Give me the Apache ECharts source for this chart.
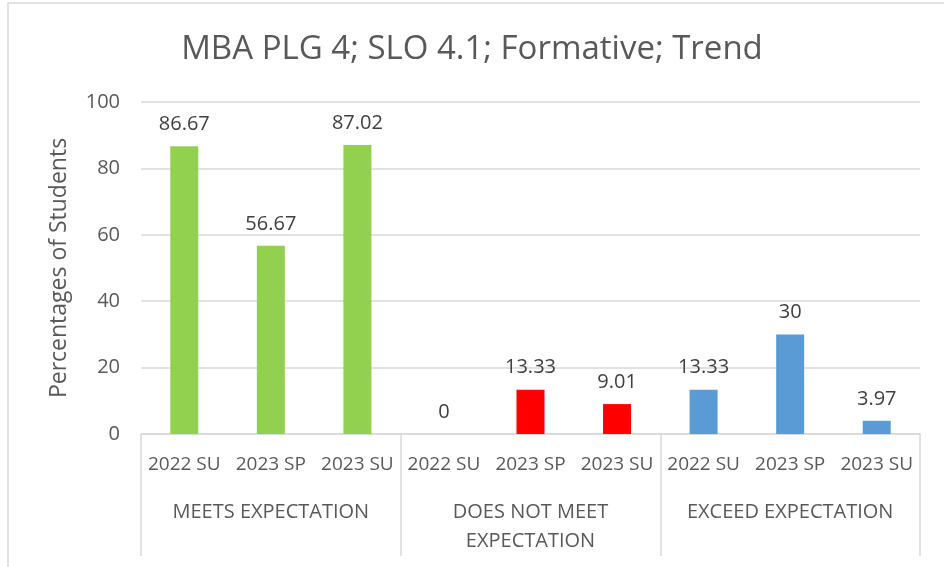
<!DOCTYPE html>
<html>
<head>
<meta charset="utf-8">
<script src="https://cdn.jsdelivr.net/npm/echarts@6/dist/echarts.min.js"></script>
<style>
  html, body { margin: 0; padding: 0; background: #fff; }
  #main { width: 944px; height: 567px; }
</style>
</head>
<body>
<div id="main"></div>
<script>
// data
var terms = ['2022 SU', '2023 SP', '2023 SU'];
var groups = ['MEETS EXPECTATION', 'DOES NOT MEET\nEXPECTATION', 'EXCEED EXPECTATION'];
var meets = [86.67, 56.67, 87.02];
var notMeet = [0, 13.33, 9.01];
var exceed = [13.33, 30, 3.97];
var groupColors = ['#92D050', '#FF0000', '#5B9BD5'];

var font = 'Open Sans';
var textColor = '#595959';
var lineColor = '#d9d9d9';

// one slot per term inside each group
var cats = [];
var values = [];
[meets, notMeet, exceed].forEach(function (arr, g) {
  arr.forEach(function (v, i) {
    cats.push(terms[i]);
    values.push({ value: v, itemStyle: { color: groupColors[g] } });
  });
});

var chart = echarts.init(document.getElementById('main'));
var option = {
  animation: false,
  title: {
    text: 'MBA PLG 4; SLO 4.1; Formative; Trend',
    left: 'center',
    top: 28,
    textStyle: { fontFamily: font, fontSize: 33, fontWeight: 'normal', color: textColor }
  },
  grid: { left: 141, right: 24, top: 102, bottom: 133 },
  xAxis: [
    {
      type: 'category',
      data: cats,
      axisLine: { show: true, lineStyle: { color: lineColor, width: 1.5 } },
      axisTick: { show: false },
      axisLabel: { interval: 0, margin: 21, fontFamily: font, fontSize: 19, color: textColor }
    },
    {
      type: 'category',
      position: 'bottom',
      data: groups,
      axisLine: { show: false },
      axisTick: { show: true, length: 122, lineStyle: { color: lineColor, width: 1.5 } },
      axisLabel: { interval: 0, margin: 64, fontFamily: font, fontSize: 20, color: textColor, lineHeight: 29 }
    }
  ],
  yAxis: {
    type: 'value',
    min: 0,
    max: 100,
    interval: 20,
    name: 'Percentages of Students',
    nameLocation: 'middle',
    nameGap: 70,
    nameTextStyle: { fontFamily: font, fontSize: 23, color: textColor },
    axisLine: { show: false },
    axisTick: { show: false },
    axisLabel: { margin: 21, fontFamily: font, fontSize: 20, color: textColor },
    splitLine: { lineStyle: { color: lineColor, width: 1.5 } }
  },
  series: [{
    type: 'bar',
    xAxisIndex: 0,
    data: values,
    barWidth: 28,
    label: {
      show: true,
      position: 'top',
      distance: 12,
      fontFamily: font,
      fontSize: 20,
      color: '#404040'
    }
  }],
  graphic: [{
    type: 'polyline',
    shape: { points: [[8, 567], [8, 3], [944, 3]] },
    style: { stroke: lineColor, lineWidth: 1.5, fill: null }
  }]
};
chart.setOption(option);
</script>
</body>
</html>
